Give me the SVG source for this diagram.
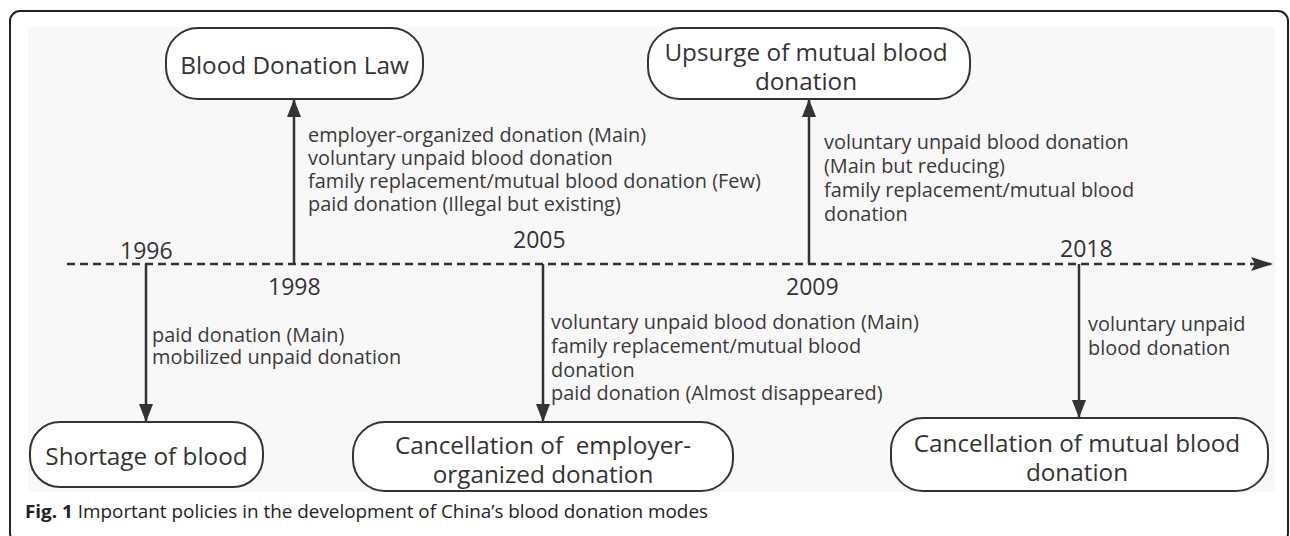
<svg xmlns="http://www.w3.org/2000/svg" width="1290" height="536" viewBox="0 0 1290 536">
<defs>
<style>
.node rect{fill:#ffffff;stroke:#333333;stroke-width:2}
.nt{font-family:"Open Sans","Noto Sans","DejaVu Sans",sans-serif;font-size:24.3px;fill:#333333;text-anchor:middle}
.yr{font-family:"Open Sans","Noto Sans","DejaVu Sans",sans-serif;font-size:23px;fill:#333333}
.ann{font-family:"Open Sans","Noto Sans","DejaVu Sans",sans-serif;font-size:19.9px;fill:#3a3a3a}
.conn{stroke:#333333;stroke-width:2.5;fill:none}
.cap{font-family:"Open Sans","Noto Sans","DejaVu Sans",sans-serif;font-size:18.5px;fill:#222222}
</style>
<marker id="ah" markerUnits="userSpaceOnUse" markerWidth="18" markerHeight="14" viewBox="0 0 18 14" refX="17" refY="7" orient="auto">
<path d="M0,0 L18,7 L0,14 Z" fill="#333333"/>
</marker>
<marker id="ta" markerUnits="userSpaceOnUse" markerWidth="22" markerHeight="14" viewBox="0 0 22 14" refX="22" refY="7" orient="auto">
<path d="M0,0 L22,7 L0,14 L4,7 Z" fill="#333333"/>
</marker>
</defs>
<rect x="0" y="0" width="1290" height="536" fill="#ffffff"/>
<rect x="10" y="11" width="1278" height="532" rx="10" fill="#ffffff" stroke="#222222" stroke-width="2"/>
<rect x="28" y="27" width="1247" height="465" fill="#f8f8f8"/>

<g id="connectors">
<line class="conn" x1="67" y1="264" x2="1273" y2="264" stroke-dasharray="8 5" marker-end="url(#ta)"/>
<line class="conn" x1="146" y1="264" x2="146" y2="421" marker-end="url(#ah)"/>
<line class="conn" x1="294" y1="264" x2="294" y2="100" marker-end="url(#ah)"/>
<line class="conn" x1="543" y1="264" x2="543" y2="421" marker-end="url(#ah)"/>
<line class="conn" x1="809" y1="264" x2="809" y2="100" marker-end="url(#ah)"/>
<line class="conn" x1="1079" y1="264" x2="1079" y2="417" marker-end="url(#ah)"/>
</g>

<g id="years">
<text class="yr" x="120" y="259">1996</text>
<text class="yr" x="268" y="295">1998</text>
<text class="yr" x="513" y="248">2005</text>
<text class="yr" x="786" y="295">2009</text>
<text class="yr" x="1060" y="257">2018</text>
</g>

<g id="labels">
<text class="ann" x="152"><tspan x="152" y="342">paid donation (Main)</tspan><tspan x="152" y="364">mobilized unpaid donation</tspan></text>
<text class="ann" x="308"><tspan x="308" y="142">employer-organized donation (Main)</tspan><tspan x="308" y="165">voluntary unpaid blood donation</tspan><tspan x="308" y="188">family replacement/mutual blood donation (Few)</tspan><tspan x="308" y="211">paid donation (Illegal but existing)</tspan></text>
<text class="ann" x="551"><tspan x="551" y="329">voluntary unpaid blood donation (Main)</tspan><tspan x="551" y="353">family replacement/mutual blood</tspan><tspan x="551" y="377">donation</tspan><tspan x="551" y="400">paid donation (Almost disappeared)</tspan></text>
<text class="ann" x="824"><tspan x="824" y="149">voluntary unpaid blood donation</tspan><tspan x="824" y="173">(Main but reducing)</tspan><tspan x="824" y="197">family replacement/mutual blood</tspan><tspan x="824" y="221">donation</tspan></text>
<text class="ann" x="1088"><tspan x="1088" y="331">voluntary unpaid</tspan><tspan x="1088" y="355">blood donation</tspan></text>
</g>

<g id="node-law" class="node">
<rect x="166" y="28" width="257" height="71" rx="32"/>
<text class="nt" x="294.5" y="74">Blood Donation Law</text>
</g>
<g id="node-upsurge" class="node">
<rect x="648" y="28" width="322" height="71" rx="32"/>
<text class="nt" x="806" y="61">Upsurge of mutual blood</text>
<text class="nt" x="806" y="90">donation</text>
</g>
<g id="node-shortage" class="node">
<rect x="30" y="422" width="233" height="65" rx="30"/>
<text class="nt" x="146.5" y="465">Shortage of blood</text>
</g>
<g id="node-cancel-employer" class="node">
<rect x="353" y="422" width="380" height="69" rx="32"/>
<text class="nt" x="543" y="454" xml:space="preserve">Cancellation of  employer-</text>
<text class="nt" x="543" y="483">organized donation</text>
</g>
<g id="node-cancel-mutual" class="node">
<rect x="891" y="418" width="377" height="73" rx="32"/>
<text class="nt" x="1077" y="452">Cancellation of mutual blood</text>
<text class="nt" x="1077" y="481">donation</text>
</g>

<text class="cap" x="25" y="518" textLength="683" lengthAdjust="spacingAndGlyphs"><tspan font-weight="bold">Fig. 1</tspan> Important policies in the development of China’s blood donation modes</text>
</svg>
